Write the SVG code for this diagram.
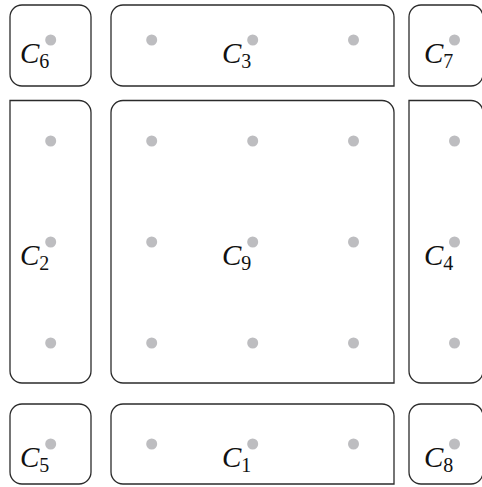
<svg xmlns="http://www.w3.org/2000/svg" width="482" height="487" viewBox="0 0 482 487">
<style>
.box{fill:none;stroke:#2b2b2b;stroke-width:1.3}
.dot{fill:#bdbdc0}
.lbl{font-family:"Liberation Serif","Times New Roman",serif;font-size:29px;fill:#111}
.c{font-style:italic}
.s{font-size:20px}
</style>
<rect width="482" height="487" fill="#fff"/>
<g id="C6">
<rect class="box" x="10" y="5" width="81" height="81" rx="12"/>
<text class="lbl" x="20" y="63"><tspan class="c">C</tspan><tspan class="s" dy="5">6</tspan></text>
<circle class="dot" cx="50.7" cy="40" r="5.5"/>
</g>
<g id="C3">
<path class="box" d="M123,5 H382 A12,12 0 0 1 394,17 V86 H123 A12,12 0 0 1 111,74 V17 A12,12 0 0 1 123,5 Z"/>
<text class="lbl" x="222" y="63"><tspan class="c">C</tspan><tspan class="s" dy="5">3</tspan></text>
<circle class="dot" cx="151.7" cy="40" r="5.5"/>
<circle class="dot" cx="252.7" cy="40" r="5.5"/>
<circle class="dot" cx="353.5" cy="40" r="5.5"/>
</g>
<g id="C7">
<rect class="box" x="409" y="5" width="74" height="81" rx="12"/>
<text class="lbl" x="424" y="63"><tspan class="c">C</tspan><tspan class="s" dy="5">7</tspan></text>
<circle class="dot" cx="454.5" cy="40" r="5.5"/>
</g>
<g id="C2">
<path class="box" d="M10,100.5 H79 A12,12 0 0 1 91,112.5 V371 A12,12 0 0 1 79,383 H22 A12,12 0 0 1 10,371 Z"/>
<text class="lbl" x="20" y="265"><tspan class="c">C</tspan><tspan class="s" dy="5">2</tspan></text>
<circle class="dot" cx="50.7" cy="141" r="5.5"/>
<circle class="dot" cx="50.7" cy="242" r="5.5"/>
<circle class="dot" cx="50.7" cy="343" r="5.5"/>
</g>
<g id="C9">
<path class="box" d="M123,100.5 H382 A12,12 0 0 1 394,112.5 V383 H123 A12,12 0 0 1 111,371 V112.5 A12,12 0 0 1 123,100.5 Z"/>
<text class="lbl" x="222" y="265"><tspan class="c">C</tspan><tspan class="s" dy="5">9</tspan></text>
<circle class="dot" cx="151.7" cy="141" r="5.5"/>
<circle class="dot" cx="252.7" cy="141" r="5.5"/>
<circle class="dot" cx="353.5" cy="141" r="5.5"/>
<circle class="dot" cx="151.7" cy="242" r="5.5"/>
<circle class="dot" cx="252.7" cy="242" r="5.5"/>
<circle class="dot" cx="353.5" cy="242" r="5.5"/>
<circle class="dot" cx="151.7" cy="343" r="5.5"/>
<circle class="dot" cx="252.7" cy="343" r="5.5"/>
<circle class="dot" cx="353.5" cy="343" r="5.5"/>
</g>
<g id="C4">
<path class="box" d="M409,100.5 H471 A12,12 0 0 1 483,112.5 V371 A12,12 0 0 1 471,383 H421 A12,12 0 0 1 409,371 Z"/>
<text class="lbl" x="424" y="265"><tspan class="c">C</tspan><tspan class="s" dy="5">4</tspan></text>
<circle class="dot" cx="454.5" cy="141" r="5.5"/>
<circle class="dot" cx="454.5" cy="242" r="5.5"/>
<circle class="dot" cx="454.5" cy="343" r="5.5"/>
</g>
<g id="C5">
<rect class="box" x="10" y="404" width="81" height="80" rx="12"/>
<text class="lbl" x="20" y="467"><tspan class="c">C</tspan><tspan class="s" dy="5">5</tspan></text>
<circle class="dot" cx="50.7" cy="444" r="5.5"/>
</g>
<g id="C1">
<path class="box" d="M123,404 H382 A12,12 0 0 1 394,416 V484 H123 A12,12 0 0 1 111,472 V416 A12,12 0 0 1 123,404 Z"/>
<text class="lbl" x="222" y="467"><tspan class="c">C</tspan><tspan class="s" dy="5">1</tspan></text>
<circle class="dot" cx="151.7" cy="444" r="5.5"/>
<circle class="dot" cx="252.7" cy="444" r="5.5"/>
<circle class="dot" cx="353.5" cy="444" r="5.5"/>
</g>
<g id="C8">
<rect class="box" x="409" y="404" width="74" height="80" rx="12"/>
<text class="lbl" x="424" y="467"><tspan class="c">C</tspan><tspan class="s" dy="5">8</tspan></text>
<circle class="dot" cx="454.5" cy="444" r="5.5"/>
</g>
<g id="connectors"/>
</svg>
